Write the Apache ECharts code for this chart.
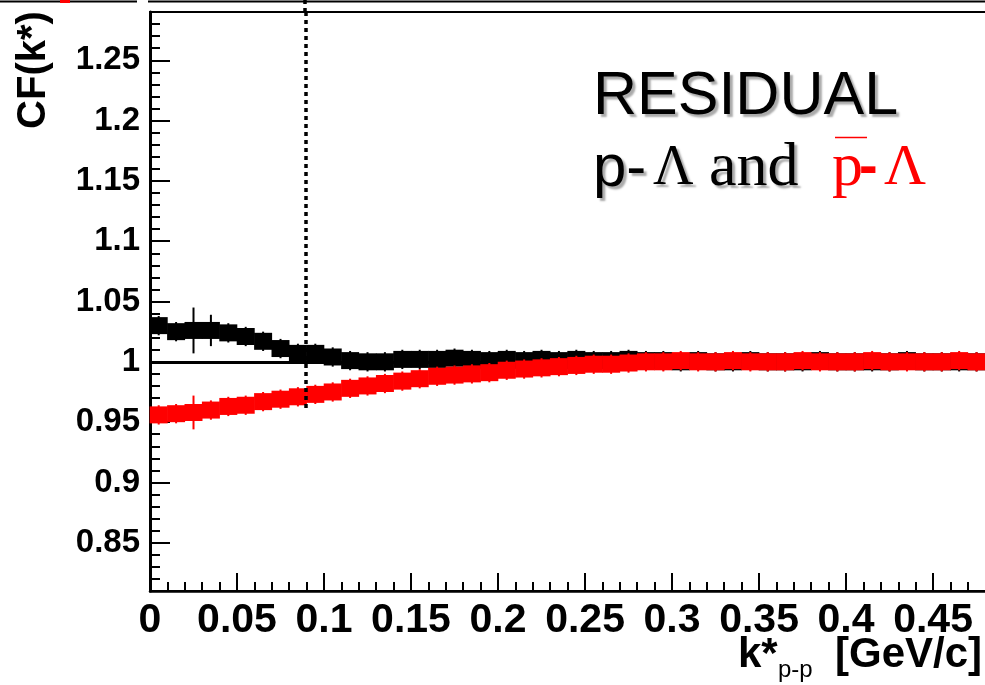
<!DOCTYPE html>
<html>
<head>
<meta charset="utf-8">
<script src="https://cdn.jsdelivr.net/npm/echarts@6/dist/echarts.min.js"></script>
<style>html,body{margin:0;padding:0;background:#fff}#c{width:985px;height:685px}</style>
</head>
<body>
<div id="c"></div>
<script>
// ---- data (k* bin centres in GeV/c) ----
const kCenters = [0.005,0.015,0.025,0.035,0.045,0.055,0.065,0.075,0.085,0.095,
  0.105,0.115,0.125,0.135,0.145,0.155,0.165,0.175,0.185,0.195,
  0.205,0.215,0.225,0.235,0.245,0.255,0.265,0.275,0.285,0.295,
  0.305,0.315,0.325,0.335,0.345,0.355,0.365,0.375,0.385,0.395,
  0.405,0.415,0.425,0.435,0.445,0.455,0.465,0.475];
// p-Lambda residual (black)
const cfPL = [1.030,1.025,1.026,1.026,1.024,1.021,1.017,1.011,1.007,1.007,
  1.004,1.001,1.000,1.000,1.002,1.002,1.002,1.003,1.002,1.001,
  1.002,1.001,1.002,1.001,1.002,1.001,1.001,1.002,1.001,1.001,
  1.000,1.001,1.000,1.000,1.001,1.000,1.000,1.000,1.001,1.000,
  1.000,1.000,1.000,1.001,1.000,1.000,1.000,1.000];
const errPL = [0.008,0.008,0.019,0.013,0.008,0.008,0.008,0.008,0.008,0.008,
  0.008,0.008,0.008,0.008,0.008,0.008,0.008,0.008,0.008,0.008,
  0.008,0.008,0.008,0.008,0.008,0.008,0.008,0.008,0.008,0.008,
  0.008,0.008,0.008,0.008,0.008,0.008,0.008,0.008,0.008,0.008,
  0.008,0.008,0.008,0.008,0.008,0.008,0.008,0.008];
// anti-p-Lambda residual (red)
const cfAPL = [0.956,0.957,0.958,0.960,0.963,0.964,0.967,0.969,0.971,0.973,
  0.975,0.978,0.980,0.982,0.984,0.986,0.988,0.989,0.990,0.991,
  0.993,0.994,0.995,0.996,0.997,0.998,0.998,0.999,1.000,1.000,
  1.001,1.000,1.000,1.001,1.000,1.000,1.000,1.001,1.000,1.000,
  1.000,1.001,1.000,1.000,1.000,1.000,1.001,1.000];
const errAPL = [0.008,0.008,0.014,0.008,0.008,0.008,0.008,0.008,0.008,0.008,
  0.008,0.008,0.008,0.008,0.008,0.008,0.008,0.008,0.008,0.008,
  0.008,0.008,0.008,0.008,0.008,0.008,0.008,0.008,0.008,0.008,
  0.008,0.008,0.008,0.008,0.008,0.008,0.008,0.008,0.008,0.008,
  0.008,0.008,0.008,0.008,0.008,0.008,0.008,0.008];
// axes
const xTicks = [0,0.05,0.1,0.15,0.2,0.25,0.3,0.35,0.4,0.45];
const yTicks = [0.85,0.9,0.95,1,1.05,1.1,1.15,1.2,1.25];
const xMin = 0, xMax = 0.481, yMin = 0.81, yMax = 1.29;
const refLevel = 1;
const cutK = 0.0895, cutYLow = 0.96;

// minor tick positions (every 0.01)
const xMinor = [], yMinor = [];
for (let i = 0; i <= 48; i++) xMinor.push(+(i*0.01).toFixed(2));
for (let i = 82; i <= 128; i++) yMinor.push(+(i*0.01).toFixed(2));

const SANS = '"Liberation Sans", Arial, sans-serif';
const SERIF = '"Liberation Serif", "Times New Roman", serif';
const fmt = v => String(+(+v).toFixed(2));

function errItem(color) {
  return function (params, api) {
    const x = api.value(0), y = api.value(1), e = api.value(2);
    const a = api.coord([x, y + e]), b = api.coord([x, y - e]);
    return {type: 'line', shape: {x1: a[0], y1: a[1], x2: b[0], y2: b[1]},
      style: {stroke: color, lineWidth: 2}};
  };
}

const chart = echarts.init(document.getElementById('c'), null, {renderer: 'canvas'});
const axisCommon = {
  type: 'value', splitLine: {show: false}
};
const txt = (x, y, text, font, fill, shadow) => ({type: 'text', x: x, y: y,
  style: Object.assign({text: text, font: font, fill: fill, align: 'left', verticalAlign: 'middle',
    textAlign: 'left', textVerticalAlign: 'middle'}, shadow || {})});
const grayShadow = {textShadowColor: '#aaa', textShadowOffsetX: 3, textShadowOffsetY: 3, textShadowBlur: 2};
const darkShadow = {textShadowColor: '#222', textShadowOffsetX: 2, textShadowOffsetY: 2, textShadowBlur: 0};

chart.setOption({
  animation: false,
  backgroundColor: '#fff',
  grid: {left: 150, top: 12, right: -2, bottom: 94, show: true, borderColor: '#000', borderWidth: 2,
    containLabel: false, outerBoundsMode: 'none'},
  xAxis: [
    Object.assign({}, axisCommon, {min: xMin, max: xMax, position: 'bottom',
      axisLine: {show: true, onZero: false, lineStyle: {color: '#000', width: 2.5}},
      axisTick: {show: true, inside: true, length: 18, customValues: xTicks, lineStyle: {color: '#000', width: 2}},
      axisLabel: {show: true, customValues: xTicks, formatter: fmt, margin: 9,
        fontFamily: SANS, fontWeight: 'bold', fontSize: 41, color: '#000'}}),
    Object.assign({}, axisCommon, {min: xMin, max: xMax, position: 'bottom',
      axisLine: {show: false},
      axisTick: {show: true, inside: true, length: 9, customValues: xMinor, lineStyle: {color: '#000', width: 2}},
      axisLabel: {show: false}})
  ],
  yAxis: [
    Object.assign({}, axisCommon, {min: yMin, max: yMax, position: 'left',
      axisLine: {show: true, onZero: false, lineStyle: {color: '#000', width: 3}},
      axisTick: {show: true, inside: true, length: 20, customValues: yTicks, lineStyle: {color: '#000', width: 2}},
      axisLabel: {show: true, customValues: yTicks, formatter: fmt, margin: 10,
        fontFamily: SANS, fontWeight: 'bold', fontSize: 33, color: '#000'}}),
    Object.assign({}, axisCommon, {min: yMin, max: yMax, position: 'left',
      axisLine: {show: false},
      axisTick: {show: true, inside: true, length: 10, customValues: yMinor, lineStyle: {color: '#000', width: 2}},
      axisLabel: {show: false}})
  ],
  series: [
    {type: 'line', data: [], z: 1, silent: true,
      markLine: {symbol: 'none', silent: true, label: {show: false}, z: 1,
        lineStyle: {color: '#000', width: 3, type: 'solid'},
        data: [{yAxis: refLevel}]}},
    {type: 'custom', name: 'pL err', z: 2, renderItem: errItem('#000'),
      encode: {x: 0, y: 1}, data: kCenters.map((k, i) => [k, cfPL[i], errPL[i]])},
    {type: 'scatter', name: 'p-Lambda', z: 3, symbol: 'rect', symbolSize: [18, 17],
      itemStyle: {color: '#000', opacity: 1}, data: kCenters.map((k, i) => [k, cfPL[i]])},
    {type: 'custom', name: 'apL err', z: 4, renderItem: errItem('#ff0000'),
      encode: {x: 0, y: 1}, data: kCenters.map((k, i) => [k, cfAPL[i], errAPL[i]])},
    {type: 'scatter', name: 'anti-p-Lambda', z: 5, symbol: 'rect', symbolSize: [18, 17],
      itemStyle: {color: '#ff0000', opacity: 1}, data: kCenters.map((k, i) => [k, cfAPL[i]])},
    {type: 'line', data: [], z: 6, silent: true,
      markLine: {symbol: 'none', silent: true, label: {show: false}, z: 6,
        lineStyle: {color: '#000', width: 3.5, type: [4, 4]},
        data: [[{coord: [cutK, yMax]}, {coord: [cutK, cutYLow]}]]}}
  ],
  graphic: [
    // remnants of the panel above
    {type: 'line', shape: {x1: 0, y1: 1.5, x2: 137, y2: 1.5}, style: {stroke: '#000', lineWidth: 2}},
    {type: 'line', shape: {x1: 148, y1: 1.5, x2: 985, y2: 1.5}, style: {stroke: '#000', lineWidth: 2}},
    {type: 'rect', shape: {x: 60, y: 0, width: 10, height: 3}, style: {fill: '#ff0000'}},
    {type: 'line', shape: {x1: 305, y1: 0, x2: 305, y2: 12}, style: {stroke: '#000', lineWidth: 3.5, lineDash: [4, 4]}},
    // y title
    {type: 'text', x: 34, y: 70, rotation: Math.PI / 2,
      style: {text: 'CF(k*)', font: 'bold 40px ' + SANS, fill: '#000',
        align: 'center', verticalAlign: 'middle', textAlign: 'center', textVerticalAlign: 'middle'}},
    // x title
    txt(738, 655, 'k*', 'bold 42px ' + SANS, '#000'),
    txt(778, 670, 'p-p', '24px ' + SANS, '#000'),
    txt(835, 655, '[GeV/c]', 'bold 42px ' + SANS, '#000'),
    // annotation
    txt(593, 97, 'RESIDUAL', '61px ' + SANS, '#000', grayShadow),
    txt(593, 169, 'p-', '60px ' + SANS, '#000', grayShadow),
    txt(653, 169, 'Λ', '56px ' + SERIF, '#000', grayShadow),
    txt(709, 169, 'and', '62px ' + SERIF, '#000', grayShadow),
    txt(832, 169, 'p', '62px ' + SERIF, '#ff0000', darkShadow),
    txt(859, 169, '-', 'bold 56px ' + SANS, '#ff0000', darkShadow),
    txt(884, 169, 'Λ', '58px ' + SERIF, '#ff0000', darkShadow),
    {type: 'line', shape: {x1: 835, y1: 137.5, x2: 867, y2: 137.5}, style: {stroke: '#ff0000', lineWidth: 1.5}}
  ]
});
</script>
</body>
</html>
